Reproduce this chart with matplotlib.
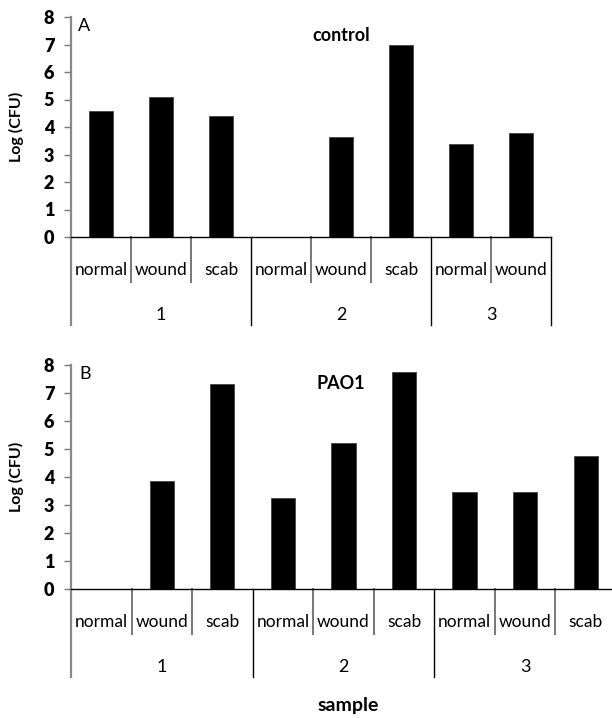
import numpy as np
import matplotlib.pyplot as plt
from matplotlib.transforms import ScaledTranslation

plt.rcParams['font.family'] = ['Lato', 'DejaVu Sans']

# Datos
sites_top = ['normal', 'wound', 'scab', 'normal', 'wound', 'scab', 'normal', 'wound']
groups_top = ['1', '1', '1', '2', '2', '2', '3', '3']
control = [4.58, 5.1, 4.41, 0.0, 3.65, 7.0, 3.38, 3.77]

sites_bot = ['normal', 'wound', 'scab', 'normal', 'wound', 'scab', 'normal', 'wound', 'scab']
groups_bot = ['1', '1', '1', '2', '2', '2', '3', '3', '3']
pao1 = [0.0, 3.86, 7.32, 3.27, 5.23, 7.76, 3.46, 3.48, 4.77]

W, H = 612, 718
fig = plt.figure(figsize=(W / 100, H / 100), dpi=100)


def panel(rect_px, sites, groups, values, title, letter):
    """Panel de barras con eje de categorias en dos niveles (muestra / sitio)."""
    x0, y_top, x1, y_bot = rect_px
    h_px = y_bot - y_top
    ax = fig.add_axes([x0 / W, 1 - y_bot / H, (x1 - x0) / W, h_px / H])
    n = len(values)
    xs = np.arange(n) + 0.5
    ax.bar(xs, values, width=0.4, color='black', edgecolor='#444444', linewidth=0.6, zorder=3)
    ax.set_xlim(0, n)
    ax.set_ylim(0, 8)
    ax.set_yticks(range(0, 9))
    ax.tick_params(axis='y', length=5, width=1, color='#777777', pad=7, labelsize=13)
    for lab in ax.get_yticklabels():
        lab.set_fontweight('heavy')
    ax.set_xticks([])
    for s in ['top', 'right']:
        ax.spines[s].set_visible(False)
    ax.spines['bottom'].set_color('black')
    ax.spines['bottom'].set_linewidth(1.0)
    ax.spines['bottom'].set_zorder(4)
    ax.spines['left'].set_color('#888888')
    ax.spines['left'].set_linewidth(1.6)

    base = ax.get_xaxis_transform()

    def below(dy_px):
        # desplazamiento hacia abajo en pixeles desde el eje
        return base + ScaledTranslation(0, -dy_px / 100, fig.dpi_scale_trans)

    def vseg(x, length, color, lw):
        ax.add_line(plt.Line2D([x, x], [0, -length / h_px], color=color, lw=lw,
                               clip_on=False, transform=base))

    # prolongacion del eje y divisiones
    vseg(0, 88, '#888888', 1.6)
    for i in range(1, n + 1):
        if i == n or groups[i - 1] != groups[i]:
            vseg(i, 88, 'black', 1.0)
        else:
            vseg(i, 45, '#777777', 1.4)

    for i, s in enumerate(sites):
        ax.text(i + 0.5, 0, s, transform=below(33), ha='center', va='center', fontsize=12.5)

    uniq = []
    for g in groups:
        if g not in uniq:
            uniq.append(g)
    for g in uniq:
        idx = [i for i, gg in enumerate(groups) if gg == g]
        ax.text((idx[0] + idx[-1] + 1) / 2, 0, g, transform=below(78), ha='center',
                va='center', fontsize=13)

    ax.set_ylabel('Log (CFU)', fontweight='bold', fontsize=11.5, labelpad=14)
    ax.text(0.015, 0.995, letter, transform=ax.transAxes, fontsize=13, ha='left', va='top')
    ax.text(270 / (x1 - x0), 1, title,
            transform=ax.transAxes + ScaledTranslation(0, -18 / 100, fig.dpi_scale_trans),
            ha='center', va='center', fontweight='bold', fontsize=13)
    return ax


panel((71, 17, 551, 237), sites_top, groups_top, control, 'control', 'A')
panel((71, 365, 616, 589.3), sites_bot, groups_bot, pao1, 'PAO1', 'B')

fig.text(348 / W, 1 - 705 / H, 'sample', ha='center', va='center', fontweight='bold', fontsize=14)

fig.savefig('out.png', dpi=100)
